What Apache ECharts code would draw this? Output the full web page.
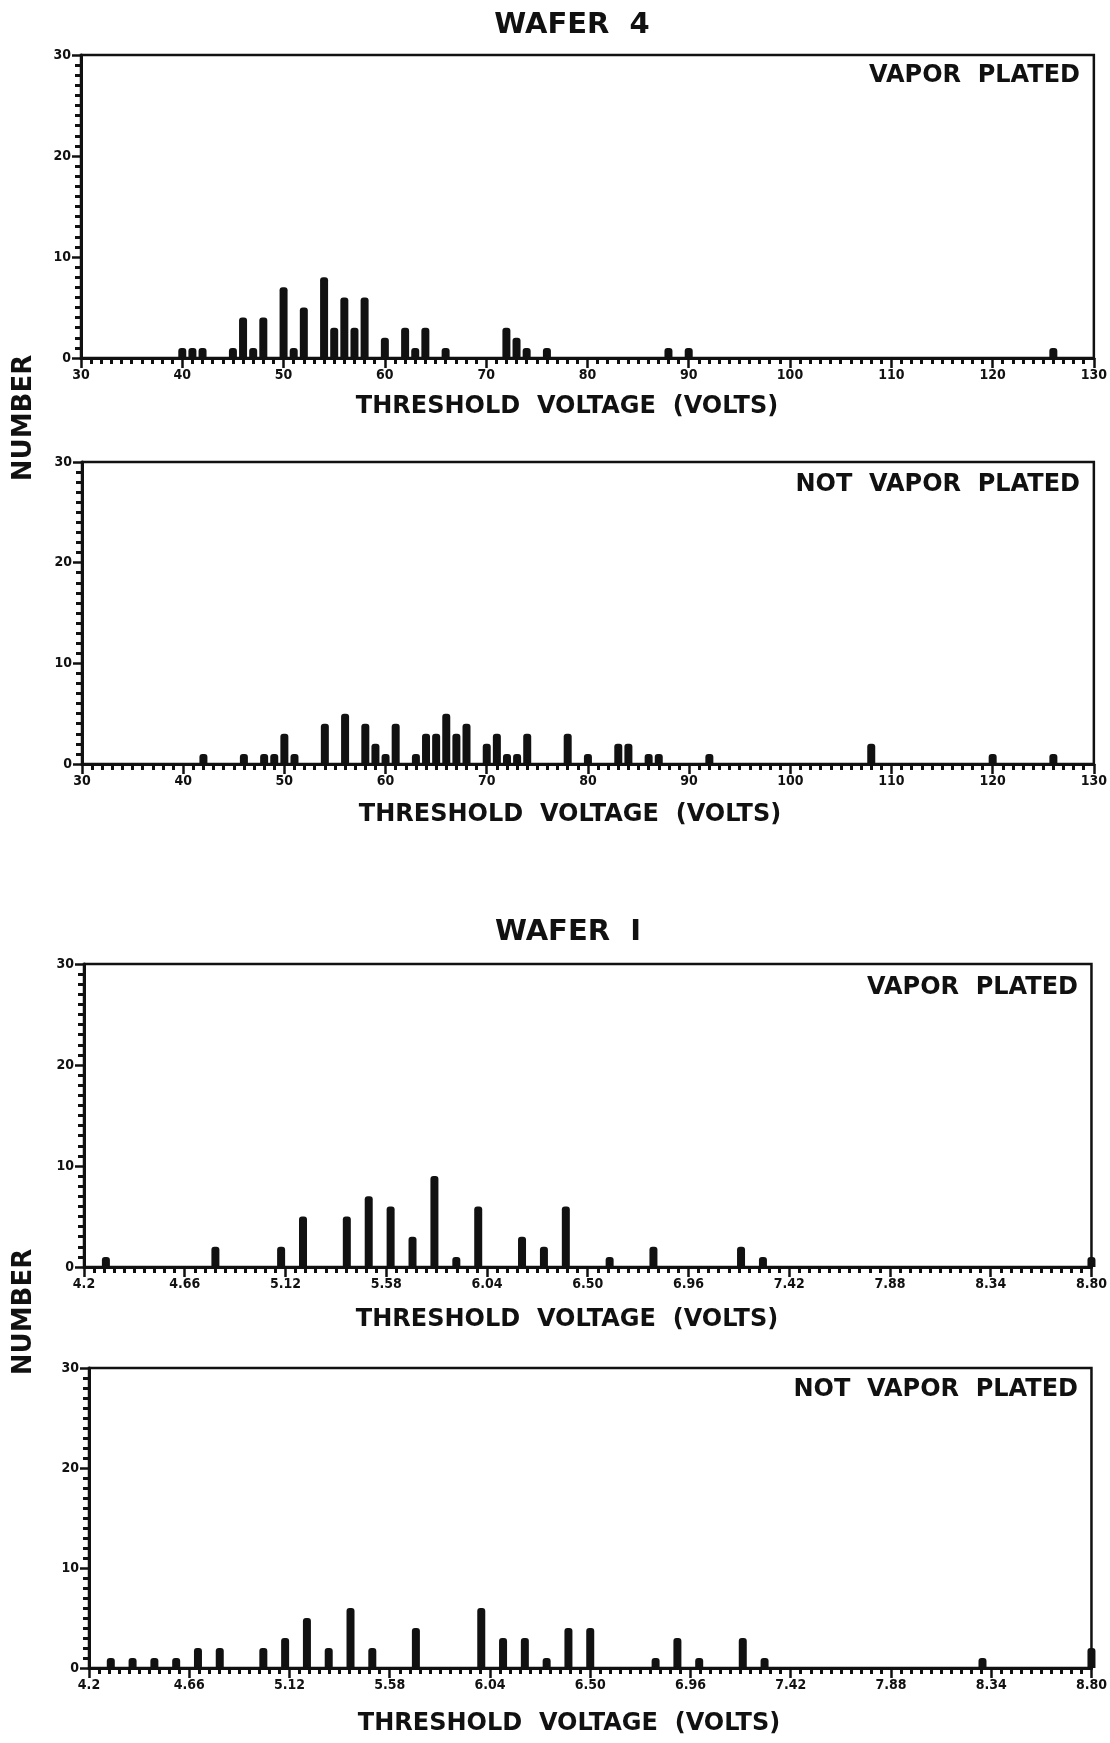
<!DOCTYPE html>
<html>
<head>
<meta charset="utf-8">
<title>Threshold voltage distributions</title>
<script src="https://cdn.jsdelivr.net/npm/echarts@6/dist/echarts.min.js"></script>
<style>
  html, body { margin: 0; padding: 0; background: #fff; }
  #chart { width: 1110px; height: 1743px; }
</style>
</head>
<body>
<div id="chart"></div>
<script>
// wafer 4 - axis printed 30 ... 130, one minor tick per unit
const w4Labels = ['30', '40', '50', '60', '70', '80', '90', '100', '110', '120', '130']
const w4VaporX = [40, 41, 42, 45, 46, 47, 48, 50, 51, 52, 54, 55, 56, 57, 58, 60, 62, 63, 64, 66, 72, 73, 74, 76, 88, 90, 126]
const w4VaporN = [1, 1, 1, 1, 4, 1, 4, 7, 1, 5, 8, 3, 6, 3, 6, 2, 3, 1, 3, 1, 3, 2, 1, 1, 1, 1, 1]
const w4NotX = [42, 46, 48, 49, 50, 51, 54, 56, 58, 59, 60, 61, 63, 64, 65, 66, 67, 68, 70, 71, 72, 73, 74, 78, 80, 83, 84, 86, 87, 92, 108, 120, 126]
const w4NotN = [1, 1, 1, 1, 3, 1, 4, 5, 4, 2, 1, 4, 1, 3, 3, 5, 3, 4, 2, 3, 1, 1, 3, 3, 1, 2, 2, 1, 1, 1, 2, 1, 1]

// wafer 1 - volts, axis printed 4.2 ... 8.80 in steps of 0.46 (minor step 0.046)
const w1Labels = ['4.2', '4.66', '5.12', '5.58', '6.04', '6.50', '6.96', '7.42', '7.88', '8.34', '8.80']
const w1VaporV = [4.3, 4.8, 5.1, 5.2, 5.4, 5.5, 5.6, 5.7, 5.8, 5.9, 6.0, 6.2, 6.3, 6.4, 6.6, 6.8, 7.2, 7.3, 8.8]
const w1VaporN = [1, 2, 2, 5, 5, 7, 6, 3, 9, 1, 6, 3, 2, 6, 1, 2, 2, 1, 1]
const w1NotV = [4.3, 4.4, 4.5, 4.6, 4.7, 4.8, 5.0, 5.1, 5.2, 5.3, 5.4, 5.5, 5.7, 6.0, 6.1, 6.2, 6.3, 6.4, 6.5, 6.8, 6.9, 7.0, 7.2, 7.3, 8.3, 8.8]
const w1NotN = [1, 1, 1, 1, 2, 2, 2, 3, 5, 2, 6, 2, 4, 6, 3, 3, 1, 4, 4, 1, 3, 1, 3, 1, 1, 2]

const W1_START = 4.2
const W1_STEP = 0.046

const INK = '#111'
const FONT = '"DejaVu Sans", "Liberation Sans", sans-serif'
const TICK_FONT = '"DejaVu Sans Condensed", "DejaVu Sans", sans-serif'

// wafer 1 voltages go onto an axis counted in minor steps, so ticks land on 4.2 + k*0.46
function toStep(v) {
  return Math.round(((v - W1_START) / W1_STEP) * 1000) / 1000
}

const panels = [
  { left: 81, top: 55, height: 303, min: 30, labels: w4Labels, x: w4VaporX, n: w4VaporN },
  { left: 82, top: 462, height: 302, min: 30, labels: w4Labels, x: w4NotX, n: w4NotN },
  { left: 84, top: 964, height: 303, min: 0, labels: w1Labels, x: w1VaporV.map(toStep), n: w1VaporN },
  { left: 89, top: 1368, height: 300, min: 0, labels: w1Labels, x: w1NotV.map(toStep), n: w1NotN }
]

const grid = panels.map(p => ({
  left: p.left,
  right: 15,
  top: p.top,
  height: p.height,
  show: true,
  borderColor: INK,
  borderWidth: 2.5,
  backgroundColor: 'transparent'
}))

const xAxis = panels.map((p, i) => ({
  type: 'value',
  gridIndex: i,
  min: p.min,
  max: p.min + 100,
  interval: 10,
  axisLine: { show: true, onZero: false, lineStyle: { color: INK, width: 3 } },
  axisTick: { show: true, length: 10, lineStyle: { color: INK, width: 2.5 } },
  minorTick: { show: true, splitNumber: 10, length: 6, lineStyle: { color: INK, width: 3 } },
  splitLine: { show: false },
  axisLabel: {
    margin: 10,
    color: INK,
    fontFamily: TICK_FONT,
    fontWeight: 'bold',
    fontSize: 14,
    formatter: v => p.labels[Math.round((v - p.min) / 10)]
  }
}))

const yAxis = panels.map((p, i) => ({
  type: 'value',
  gridIndex: i,
  min: 0,
  max: 30,
  interval: 10,
  axisLine: { show: true, lineStyle: { color: INK, width: 3 } },
  axisTick: { show: true, length: 9, lineStyle: { color: INK, width: 2.5 } },
  minorTick: { show: true, splitNumber: 10, length: 6, lineStyle: { color: INK, width: 3 } },
  splitLine: { show: false },
  axisLabel: {
    margin: 10,
    color: INK,
    fontFamily: TICK_FONT,
    fontWeight: 'bold',
    fontSize: 14
  }
}))

const series = panels.map((p, i) => ({
  type: 'bar',
  xAxisIndex: i,
  yAxisIndex: i,
  barWidth: 8,
  silent: true,
  itemStyle: { color: INK, borderRadius: [3, 3, 0, 0] },
  data: p.x.map((x, k) => [x, p.n[k]])
}))

function label(text, x, y, size, align, extra) {
  return Object.assign({
    type: 'text',
    x: x,
    y: y,
    silent: true,
    style: {
      text: text,
      font: 'bold ' + size + 'px ' + FONT,
      fill: INK,
      textAlign: align || 'center',
      textVerticalAlign: 'middle'
    }
  }, extra || {})
}

const graphic = [
  label('WAFER  4', 572, 25, 29),
  label('WAFER  I', 568, 932, 29),
  label('NUMBER', 24, 418, 26, 'center', { rotation: Math.PI / 2 }),
  label('NUMBER', 24, 1312, 26, 'center', { rotation: Math.PI / 2 }),
  label('THRESHOLD  VOLTAGE  (VOLTS)', 567, 407, 24),
  label('THRESHOLD  VOLTAGE  (VOLTS)', 570, 815, 24),
  label('THRESHOLD  VOLTAGE  (VOLTS)', 567, 1320, 24),
  label('THRESHOLD  VOLTAGE  (VOLTS)', 569, 1724, 24),
  label('VAPOR  PLATED', 1080, 76, 24, 'right'),
  label('NOT  VAPOR  PLATED', 1080, 485, 24, 'right'),
  label('VAPOR  PLATED', 1078, 988, 24, 'right'),
  label('NOT  VAPOR  PLATED', 1078, 1390, 24, 'right')
]

const chart = echarts.init(document.getElementById('chart'))
chart.setOption({
  backgroundColor: '#fff',
  animation: false,
  grid: grid,
  xAxis: xAxis,
  yAxis: yAxis,
  series: series,
  graphic: graphic
})
</script>
</body>
</html>
